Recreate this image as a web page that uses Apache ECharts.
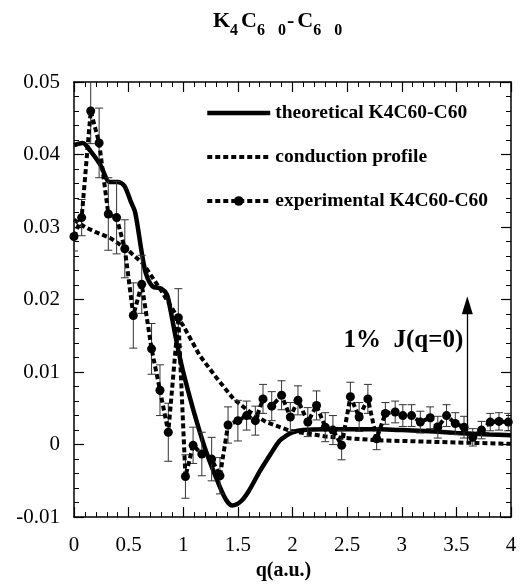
<!DOCTYPE html>
<html>
<head>
<meta charset="utf-8">
<script src="https://cdn.jsdelivr.net/npm/echarts@6/dist/echarts.min.js"></script>
<style>
html,body{margin:0;padding:0;background:#fff;}
#main{width:523px;height:586px;}
</style>
</head>
<body>
<div id="main"></div>
<script>
// ---- data ----
const xMin = 0, xMax = 4, xInterval = 0.5;
const yMin = -0.01, yMax = 0.05, yInterval = 0.01;

const seriesNames = ['theoretical K4C60-C60', 'conduction profile', 'experimental K4C60-C60'];

const qTheory = [0, 0.08, 0.15, 0.24, 0.33, 0.40, 0.46, 0.52, 0.56, 0.62, 0.66, 0.72, 0.80, 0.85, 0.88, 0.94, 1.00, 1.09, 1.21, 1.34, 1.40, 1.45, 1.53, 1.60, 1.70, 1.80, 1.88, 1.95, 2.00, 2.10, 2.30, 2.50, 2.80, 3.00, 3.30, 3.50, 3.80, 4.00];
const vTheory = [0.0413, 0.0416, 0.0405, 0.0386, 0.0362, 0.0362, 0.0357, 0.0335, 0.0320, 0.0265, 0.0235, 0.0218, 0.0215, 0.0207, 0.0188, 0.0141, 0.0100, 0.0049, -0.0010, -0.0060, -0.0078, -0.0084, -0.0078, -0.0064, -0.0037, -0.0013, 0.0005, 0.0013, 0.0017, 0.0020, 0.0021, 0.0021, 0.0021, 0.0020, 0.0018, 0.0016, 0.0014, 0.0013];

const qCond = [0, 0.10, 0.20, 0.33, 0.48, 0.63, 0.80, 0.95, 1.00, 1.15, 1.31, 1.46, 1.61, 1.76, 1.98, 2.31, 2.77, 3.23, 4.00];
const vCond = [0.0310, 0.0300, 0.0293, 0.0285, 0.0270, 0.0250, 0.0212, 0.0175, 0.0164, 0.0123, 0.0091, 0.0063, 0.0045, 0.0031, 0.0019, 0.0011, 0.0006, 0.0004, 0.0001];

const qExp = [0.00, 0.07, 0.153, 0.23, 0.314, 0.39, 0.465, 0.543, 0.62, 0.71, 0.787, 0.863, 0.955, 1.02, 1.09, 1.17, 1.26, 1.336, 1.41, 1.50, 1.58, 1.66, 1.73, 1.81, 1.90, 1.98, 2.05, 2.14, 2.22, 2.30, 2.37, 2.45, 2.53, 2.61, 2.69, 2.77, 2.85, 2.94, 3.01, 3.09, 3.17, 3.26, 3.33, 3.41, 3.49, 3.57, 3.65, 3.73, 3.81, 3.89, 3.975];
const vExp = [0.0287, 0.0313, 0.0460, 0.0416, 0.0318, 0.0313, 0.0270, 0.0178, 0.0221, 0.0132, 0.0075, 0.0017, 0.0175, -0.0044, -0.0001, -0.0013, -0.0020, -0.0043, 0.0027, 0.0033, 0.0040, 0.0033, 0.0063, 0.0053, 0.0068, 0.0038, 0.0061, 0.0031, 0.0054, 0.0024, 0.0020, -0.0001, 0.0066, 0.0038, 0.0063, 0.0008, 0.0043, 0.0045, 0.0040, 0.0040, 0.0031, 0.0037, 0.0024, 0.0040, 0.0029, 0.0024, 0.0010, 0.0020, 0.0031, 0.0032, 0.0031];
const errExp = [0.0020, 0.0025, 0.0045, 0.0048, 0.0050, 0.0050, 0.0040, 0.0045, 0.0040, 0.0035, 0.0035, 0.0040, 0.0040, 0.0030, 0.0025, 0.0030, 0.0030, 0.0025, 0.0025, 0.0028, 0.0020, 0.0020, 0.0020, 0.0020, 0.0020, 0.0020, 0.0020, 0.0020, 0.0020, 0.0020, 0.0020, 0.0020, 0.0020, 0.0020, 0.0020, 0.0015, 0.0015, 0.0015, 0.0015, 0.0015, 0.0015, 0.0015, 0.0015, 0.0015, 0.0015, 0.0015, 0.0012, 0.0012, 0.0012, 0.0012, 0.0012];

const arrowQ = 3.6, arrowFrom = 0.0005, arrowTo = 0.0192;
const arrowLabel = '1%  J(q=0)';
const arrowLabelY = 0.0143;

// ---- chart ----
const SERIF = 'Liberation Serif';
const chart = echarts.init(document.getElementById('main'), null, {renderer: 'canvas'});

const zip = (a, b) => a.map((v, i) => [v, b[i]]);

const axisCommon = {
  type: 'value',
  axisLine: {show: true, onZero: false, lineStyle: {color: '#000', width: 1.5}},
  axisTick: {show: true, inside: true, length: 10, lineStyle: {color: '#000', width: 1.2}},
  minorTick: {show: true, splitNumber: 5, length: 5, lineStyle: {color: '#000', width: 1}},
  splitLine: {show: false},
  minorSplitLine: {show: false}
};

const subBase = {fontFamily: SERIF, fontWeight: 'bold', fontSize: 16, color: '#000', lineHeight: 24};
const option = {
  backgroundColor: '#fff',
  animation: false,
  title: {
    text: '{m|K}{s|4}{m|C}{s|6}{s2|0}{d|-}{m|C}{s|6}{s2|0}',
    left: 213,
    top: 9,
    padding: 0,
    textStyle: {
      rich: {
        m: {fontFamily: SERIF, fontWeight: 'bold', fontSize: 22, color: '#000', lineHeight: 24},
        s: Object.assign({}, subBase, {padding: [20, 3, 0, 0]}),
        s2: Object.assign({}, subBase, {padding: [20, 1, 0, 10]}),
        d: {fontFamily: SERIF, fontWeight: 'bold', fontSize: 22, color: '#000', lineHeight: 24, padding: [0, 3, 0, 0]}
      }
    }
  },
  grid: {left: 74, right: 12, top: 82, bottom: 67, containLabel: false},
  legend: {
    data: [
      {name: seriesNames[0], itemStyle: {opacity: 0}, lineStyle: {width: 4.5, type: 'solid'}},
      {name: seriesNames[1], itemStyle: {opacity: 0}, lineStyle: {width: 4, type: [5, 3]}},
      {name: seriesNames[2], lineStyle: {width: 4, type: [5, 3]}}
    ],
    orient: 'vertical',
    left: 205,
    top: 103,
    padding: 0,
    itemWidth: 63,
    itemHeight: 12,
    itemGap: 24,
    textStyle: {fontFamily: SERIF, fontWeight: 'bold', fontSize: 19.5, color: '#000'}
  },
  xAxis: [
    Object.assign({}, axisCommon, {
      position: 'bottom', min: xMin, max: xMax, interval: xInterval,
      axisLabel: {fontFamily: SERIF, fontSize: 21, color: '#000', margin: 18},
      name: 'q(a.u.)', nameLocation: 'middle', nameGap: 40,
      nameTextStyle: {fontFamily: SERIF, fontWeight: 'bold', fontSize: 20, color: '#000', padding: [0, 18, 0, 0]}
    }),
    Object.assign({}, axisCommon, {
      position: 'top', min: xMin, max: xMax, interval: xInterval,
      axisLabel: {show: false}
    })
  ],
  yAxis: [
    Object.assign({}, axisCommon, {
      position: 'left', min: yMin, max: yMax, interval: yInterval,
      axisLabel: {fontFamily: SERIF, fontSize: 21, color: '#000', margin: 14}
    }),
    Object.assign({}, axisCommon, {
      position: 'right', min: yMin, max: yMax, interval: yInterval,
      axisLabel: {show: false}
    })
  ],
  series: [
    {
      name: seriesNames[1],
      type: 'line',
      data: zip(qCond, vCond),
      symbol: 'none',
      lineStyle: {color: '#000', width: 4, type: [5, 3], cap: 'butt'},
      itemStyle: {color: '#000'},
      z: 2
    },
    {
      name: seriesNames[0],
      type: 'line',
      data: zip(qTheory, vTheory),
      symbol: 'none',
      smooth: 0.3,
      lineStyle: {color: '#000', width: 4.5, type: 'solid'},
      itemStyle: {color: '#000'},
      z: 3
    },
    {
      name: 'errorbars',
      type: 'custom',
      data: qExp.map((q, i) => [q, vExp[i], errExp[i]]),
      encode: {x: 0, y: 1},
      clip: true,
      z: 4,
      renderItem: function (params, api) {
        const x = api.value(0), y = api.value(1), e = api.value(2);
        const top = api.coord([x, y + e]);
        const bot = api.coord([x, y - e]);
        const hw = 4;
        const st = {stroke: '#333', lineWidth: 1};
        return {
          type: 'group',
          children: [
            {type: 'line', shape: {x1: top[0], y1: top[1], x2: bot[0], y2: bot[1]}, style: st},
            {type: 'line', shape: {x1: top[0] - hw, y1: top[1], x2: top[0] + hw, y2: top[1]}, style: st},
            {type: 'line', shape: {x1: bot[0] - hw, y1: bot[1], x2: bot[0] + hw, y2: bot[1]}, style: st}
          ]
        };
      }
    },
    {
      name: seriesNames[2],
      type: 'line',
      data: zip(qExp, vExp),
      symbol: 'circle',
      symbolSize: 9,
      showSymbol: true,
      lineStyle: {color: '#000', width: 4, type: [5, 3], cap: 'butt'},
      itemStyle: {color: '#000', borderWidth: 0},
      z: 5
    },
    {
      name: 'arrow',
      type: 'line',
      data: [],
      markLine: {
        silent: true,
        symbol: ['none', 'triangle'],
        symbolSize: [11, 18],
        lineStyle: {color: '#000', width: 1.3, type: 'solid'},
        label: {show: false},
        data: [[{coord: [arrowQ, arrowFrom]}, {coord: [arrowQ, arrowTo]}]]
      },
      markPoint: {
        silent: true,
        symbol: 'circle',
        symbolSize: 0,
        label: {
          show: true, position: 'left', distance: 4,
          formatter: arrowLabel,
          fontFamily: SERIF, fontWeight: 'bold', fontSize: 25, color: '#000'
        },
        data: [{coord: [arrowQ, arrowLabelY]}]
      }
    }
  ]
};
chart.setOption(option);
</script>
</body>
</html>
